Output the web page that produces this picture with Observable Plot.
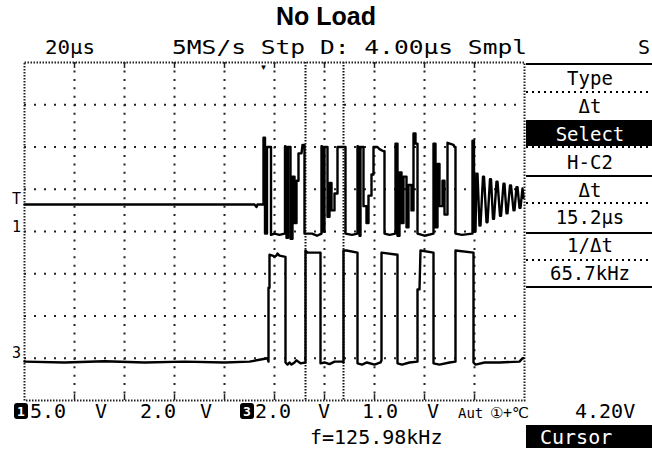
<!DOCTYPE html>
<html>
<head>
<meta charset="utf-8">
<script src="https://cdn.jsdelivr.net/npm/d3@7"></script>
<script src="https://cdn.jsdelivr.net/npm/@observablehq/plot@0.6"></script>
<style>
  html, body { margin: 0; padding: 0; background: #fff; }
  svg { display: block; }
</style>
</head>
<body>
<div id="chart"></div>
<script>
// Screen units: x in divisions (20 µs/div), y in divisions (centre = 0)
const ch1T = [0, 4.60, 4.64, 4.66, 4.78, 4.78, 4.81, 4.81, 4.85, 4.85, 4.93, 4.93, 5.00, 5.10, 5.20,
  5.21, 5.21, 5.24, 5.24, 5.27, 5.27, 5.32, 5.32, 5.36, 5.36, 5.40, 5.40, 5.44, 5.44, 5.48, 5.48, 5.54, 5.56, 5.60, 5.60, 5.75, 5.85, 5.94,
  5.94, 5.98, 5.98, 6.00, 6.00, 6.06, 6.06, 6.10, 6.10, 6.14, 6.14, 6.20, 6.20, 6.26, 6.26, 6.42, 6.42, 6.55, 6.66,
  6.66, 6.70, 6.70, 6.72, 6.72, 6.78, 6.78, 6.84, 6.84, 6.88, 6.88, 6.94, 6.94, 6.98, 6.98, 7.06, 7.10, 7.18, 7.20, 7.20, 7.30, 7.42,
  7.42, 7.46, 7.46, 7.50, 7.50, 7.54, 7.54, 7.58, 7.58, 7.64, 7.64, 7.68, 7.68, 7.74, 7.74, 7.78, 7.78, 7.82, 7.82, 7.86, 7.86, 8.00, 8.18,
  8.18, 8.22, 8.22, 8.26, 8.26, 8.30, 8.30, 8.36, 8.36, 8.40, 8.40, 8.46, 8.46, 8.58, 8.60, 8.62, 8.62, 8.75, 8.95,
  8.96, 8.96, 8.99, 8.99, 9.02, 9.04, 9.06, 9.10, 9.12, 9.17, 9.19, 9.24, 9.26, 9.31, 9.33, 9.37, 9.39, 9.44, 9.46, 9.51, 9.53, 9.58, 9.60, 9.64, 9.66, 9.71, 9.73, 9.78, 9.80, 9.84, 9.86, 9.90, 9.92, 9.96, 9.98];
const ch1V = [0.64, 0.64, 0.58, 0.64, 0.64, 2.22, 2.22, -0.05, -0.05, 2.00, 2.00, -0.08, -0.05, -0.08, -0.05,
  -0.05, 2.02, 2.00, -0.15, -0.15, 2.00, 2.00, -0.17, -0.17, 1.30, 1.30, 0.20, 0.20, 1.20, 1.20, 1.85, 1.85, 2.05, 2.05, -0.05, -0.05, -0.10, -0.05,
  2.02, 2.00, 0.00, 0.00, 2.00, 2.00, 0.35, 0.35, 1.15, 1.15, 0.50, 0.50, 0.90, 0.90, 2.00, 2.00, -0.05, -0.08, -0.05,
  2.02, 2.00, -0.10, -0.10, 2.00, 2.00, 0.60, 0.60, 0.20, 0.20, 0.85, 0.85, 1.35, 1.35, 2.00, 2.00, 1.95, 1.90, 1.90, -0.05, -0.08, -0.05,
  2.08, 2.08, -0.10, -0.10, 1.40, 1.40, 0.20, 0.20, 1.30, 1.30, 0.10, 0.10, 1.10, 1.10, 0.50, 0.50, 2.32, 2.32, 2.08, 2.08, -0.05, -0.10, -0.05,
  2.08, 2.08, 0.10, 0.10, 1.60, 1.60, 0.60, 0.60, 1.20, 1.20, 0.40, 0.40, 2.10, 2.05, 2.00, 2.00, -0.05, -0.08, -0.05,
  -0.05, 2.15, 2.15, 0.00, 0.00, 1.37, 1.37, 0.14, 0.14, 1.30, 1.30, 0.22, 0.22, 1.24, 1.24, 0.30, 0.30, 1.18, 1.18, 0.37, 0.37, 1.13, 1.13, 0.43, 0.43, 1.09, 1.09, 0.50, 0.50, 1.05, 1.05, 0.56, 0.56, 1.02, 0.80];

const ch3T = [0, 0.8, 1.6, 2.4, 3.2, 4.0, 4.5, 4.86, 4.88, 4.88, 4.90, 4.90, 4.96, 5.00, 5.04, 5.06, 5.10, 5.22, 5.22,
  5.26, 5.30, 5.34, 5.40, 5.44, 5.52, 5.62, 5.62, 5.66, 5.90, 5.92, 5.92, 6.00, 6.10, 6.20, 6.36, 6.38, 6.38, 6.44, 6.66, 6.66,
  6.75, 6.85, 7.00, 7.12, 7.14, 7.14, 7.46, 7.46, 7.55, 7.70, 7.86, 7.86, 7.90, 7.92, 8.18, 8.18, 8.30, 8.50, 8.62, 8.62, 8.98, 8.98,
  9.02, 9.20, 9.50, 9.90, 9.96, 9.98];
const ch3V = [-3.08, -3.10, -3.07, -3.10, -3.08, -3.10, -3.08, -3.00, -3.08, -1.33, -1.33, -0.55, -0.57, -0.60, -0.57, -0.52, -0.57, -0.60, -3.10,
  -3.15, -3.10, -3.15, -3.10, -3.05, -3.12, -3.10, -0.45, -0.50, -0.50, -0.50, -3.12, -3.10, -3.14, -3.08, -3.08, -3.10, -0.45, -0.45, -0.50, -3.12,
  -3.15, -3.10, -3.15, -3.10, -3.05, -0.50, -0.55, -3.12, -3.15, -3.10, -3.08, -1.37, -1.37, -0.45, -0.50, -3.12, -3.15, -3.10, -3.08, -0.45, -0.50, -3.10,
  -3.15, -3.10, -3.10, -3.08, -3.00, -3.00];

const gridX = [1, 2, 3, 4, 5, 6, 7, 8, 9];
const gridY = [-3, -2, -1, 0, 1, 2, 3];
const cursorsX = [5.62, 6.38];
const triggerX = 4.78;
const markers = [{label: "T", y: 0.64}, {label: "1", y: -0.02}, {label: "3", y: -3.0}];

const title = "No Load";
const headerLeft = "20µs";
const headerMid = "5MS/s Stp D: 4.00µs Smpl";
const headerRight = "S";
const panelRows = ["Type", "Δt", "Select", "H-C2", "Δt", "15.2µs", "1/Δt", "65.7kHz"];
const bottomRow = ["5.0", "V", "2.0", "V", "2.0", "V", "1.0", "V", "Aut", "4.20V"];
const freqText = "f=125.98kHz";
const modeText = "Cursor";

const ch1 = ch1T.map((t, i) => ({t, v: ch1V[i]}));
const ch3 = ch3T.map((t, i) => ({t, v: ch3V[i]}));

const W = 652, H = 450;
const plot = Plot.plot({
  width: W, height: H,
  marginLeft: 24, marginRight: 128, marginTop: 62, marginBottom: 50,
  x: {domain: [0, 10], axis: null},
  y: {domain: [-4, 4], axis: null},
  style: {background: "white"},
  marks: [
    Plot.ruleX(gridX, {x: d => d, stroke: "#222", strokeWidth: 2, strokeDasharray: "2,6.45"}),
    Plot.ruleY(gridY, {y: d => d, stroke: "#222", strokeWidth: 2, strokeDasharray: "2,8"}),
    Plot.ruleX(gridX, {x: d => d, y1: 4, y2: 3.86, stroke: "#222", strokeWidth: 1.5}),
    Plot.ruleX(gridX, {x: d => d, y1: -4, y2: -3.86, stroke: "#222", strokeWidth: 1.5}),
    Plot.ruleX(cursorsX, {x: d => d, stroke: "#111", strokeWidth: 2, strokeDasharray: "1.5,1.5"}),
    Plot.frame({stroke: "#222", strokeWidth: 2, strokeDasharray: "1.5,1.5"}),
    Plot.line(ch1, {x: "t", y: "v", stroke: "black", strokeWidth: 2.4}),
    Plot.line(ch3, {x: "t", y: "v", stroke: "black", strokeWidth: 2.4}),
    Plot.text([triggerX], {x: d => d, y: 4, text: () => "▼", dy: 5, fontSize: 8, fill: "black"}),
    Plot.text(markers, {x: 0, y: "y", text: "label", dx: -8, dy: -5, fontSize: 15, fontFamily: "DejaVu Sans Mono", fill: "black"})
  ]
});
document.getElementById("chart").appendChild(plot);

const svg = d3.select(plot);
const mono = "DejaVu Sans Mono";
function txt(x, y, s, opts = {}) {
  const t = svg.append("text").attr("x", x).attr("y", y).text(s)
    .attr("font-family", opts.family || mono)
    .attr("font-size", opts.size || 20)
    .attr("fill", opts.fill || "black")
    .attr("text-anchor", opts.anchor || "start");
  if (opts.weight) t.attr("font-weight", opts.weight);
  if (opts.len) t.attr("textLength", opts.len).attr("lengthAdjust", "spacingAndGlyphs");
  return t;
}
function hline(y, dotted) {
  svg.append("line").attr("x1", 526).attr("x2", W).attr("y1", y).attr("y2", y)
    .attr("stroke", "black").attr("stroke-width", 2)
    .attr("stroke-dasharray", dotted ? "2,4" : null);
}

// title
txt(326, 25, title, {family: "Liberation Sans", size: 25, weight: "bold", anchor: "middle"});
// header
txt(45, 54, headerLeft, {len: 50});
txt(172, 54, headerMid, {len: 355});
txt(638, 54, headerRight);

// right panel
[64, 176, 233, 287].forEach(y => hline(y, false));
[92, 147, 203, 260].forEach(y => hline(y, true));
svg.append("rect").attr("x", 526).attr("y", 120).attr("width", W - 526).attr("height", 26).attr("fill", "black");
const rowY = [85, 113, 141, 169, 197, 224, 252, 280];
panelRows.forEach((s, i) => {
  txt(590, rowY[i], s, {anchor: "middle", fill: i === 2 ? "white" : "black", size: 19});
});

// bottom status row
const bx = [30, 95, 140, 200, 255, 318, 362, 427, 458, 575];
bottomRow.forEach((s, i) => txt(bx[i], 418, s, {size: i === 8 ? 14 : 20}));
[[14, "1"], [240, "3"]].forEach(([x, s]) => {
  svg.append("rect").attr("x", x).attr("y", 403).attr("width", 14).attr("height", 16).attr("rx", 3).attr("fill", "black");
  txt(x + 7, 416, s, {size: 13, fill: "white", anchor: "middle", weight: "bold"});
});
txt(490, 418, "①+℃", {size: 15});
txt(310, 444, freqText);
svg.append("rect").attr("x", 526).attr("y", 425).attr("width", W - 526).attr("height", 23).attr("fill", "black");
txt(540, 444, modeText, {fill: "white"});
</script>
</body>
</html>
